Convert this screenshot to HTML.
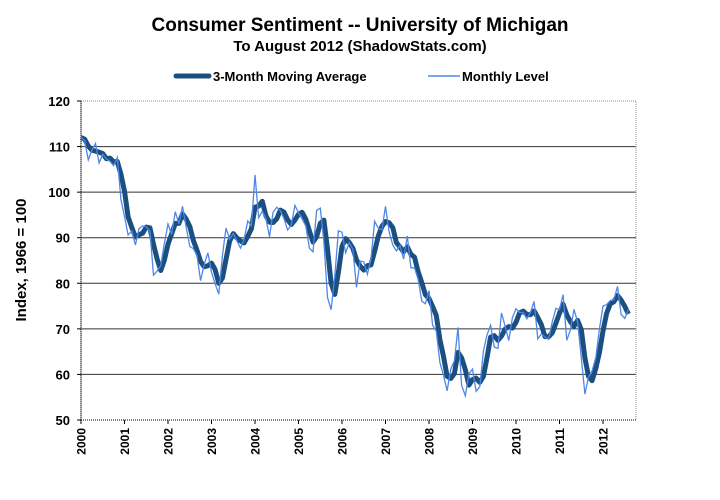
<!DOCTYPE html>
<html><head><meta charset="utf-8"><style>
body{margin:0;background:#fff;width:720px;height:495px;overflow:hidden}
svg{font-family:"Liberation Sans",Arial,sans-serif;font-weight:bold}
</style></head><body>
<svg id="s" width="720" height="495" xmlns="http://www.w3.org/2000/svg">
<text x="360" y="31" font-size="19" text-anchor="middle">Consumer Sentiment -- University of Michigan</text>
<text x="360" y="51" font-size="15" text-anchor="middle">To August 2012 (ShadowStats.com)</text>
<line x1="176" y1="76" x2="209" y2="76" stroke="#1a4f7f" stroke-width="5" stroke-linecap="round"/>
<text x="213" y="81" font-size="13">3-Month Moving Average</text>
<line x1="428" y1="76" x2="460" y2="76" stroke="#4f86e8" stroke-width="1.5"/>
<text x="462" y="81" font-size="13">Monthly Level</text>
<text transform="translate(26,260) rotate(-90)" font-size="15" text-anchor="middle">Index, 1966 = 100</text>
<g id="g"></g>
</svg>
<script>
var d=[112.0,111.3,107.1,109.2,110.7,106.4,108.3,107.3,106.8,105.8,107.6,98.4,
94.7,90.6,91.5,88.4,92.0,92.6,92.4,91.5,81.8,82.7,83.9,88.8,
93.0,90.7,95.7,93.0,96.9,92.4,88.1,87.6,86.1,80.6,84.2,86.7,
82.4,79.9,77.6,86.0,92.1,89.7,90.9,89.3,87.7,89.6,93.7,92.6,
103.8,94.4,95.8,94.2,90.2,95.6,96.7,95.9,94.2,91.7,92.8,97.1,
95.5,94.1,92.6,87.7,86.9,96.0,96.5,89.1,76.9,74.2,81.6,91.5,
91.2,86.7,88.9,87.4,79.1,84.9,84.7,82.0,85.4,93.6,92.1,91.7,
96.9,91.3,88.4,87.1,88.3,85.3,90.4,83.4,83.4,80.9,76.1,75.5,
78.4,70.8,69.5,62.6,59.8,56.4,61.2,63.0,70.3,57.6,55.3,60.1,
61.2,56.3,57.3,65.1,68.7,70.8,66.0,65.7,73.5,70.6,67.4,72.5,
74.4,73.6,73.6,72.2,73.6,76.0,67.8,68.9,68.2,67.7,71.6,74.5,
74.2,77.5,67.5,69.8,74.3,71.5,63.7,55.7,59.4,60.8,63.7,69.9,
75.0,75.3,76.2,76.4,79.3,73.2,72.3,74.3];
var L=81,R=636,T=101,B=420,Y=43.5;
function X(i){return L+i*Y/12}function V(v){return B-(v-50)*(B-T)/70}
var h='';
for(var v=60;v<=110;v+=10){h+='<line x1="'+L+'" x2="'+R+'" y1="'+V(v)+'" y2="'+V(v)+'" stroke="#333" stroke-width="1"/>';}
h+='<rect x="'+L+'" y="'+T+'" width="'+(R-L)+'" height="'+(B-T)+'" fill="none" stroke="#888" stroke-dasharray="1,1"/>';
h+='<line x1="'+L+'" x2="'+R+'" y1="'+B+'" y2="'+B+'" stroke="#000" stroke-dasharray="1,1"/>';
h+='<line x1="'+L+'" x2="'+L+'" y1="'+T+'" y2="'+B+'" stroke="#000" stroke-dasharray="1,1"/>';
for(var v=50;v<=120;v+=10){h+='<text x="70" y="'+(V(v)+5)+'" font-size="13" text-anchor="end">'+v+'</text><line x1="'+(L-4)+'" x2="'+L+'" y1="'+V(v)+'" y2="'+V(v)+'" stroke="#000"/>';}
for(var y=0;y<=12;y++){var x=L+y*Y;h+='<line x1="'+x+'" x2="'+x+'" y1="'+B+'" y2="'+(B+4)+'" stroke="#000"/><text transform="translate('+(x+4.5)+',428) rotate(-90)" font-size="12" text-anchor="end">'+(2000+y)+'</text>';}
var p=[],m=[];
for(var i=0;i<d.length;i++){p.push(X(i).toFixed(1)+','+V(d[i]).toFixed(1));
var a=d.slice(Math.max(0,i-2),i+1);var s=0;a.forEach(function(z){s+=z});m.push(X(i).toFixed(1)+','+V(s/a.length).toFixed(1));}
h+='<polyline points="'+m.join(' ')+'" fill="none" stroke="#1a4f7f" stroke-width="5" stroke-linejoin="round"/>';
h+='<polyline points="'+p.join(' ')+'" fill="none" stroke="#4f86e8" stroke-width="1.3"/>';
document.getElementById('g').innerHTML=h;
</script>
</body></html>
